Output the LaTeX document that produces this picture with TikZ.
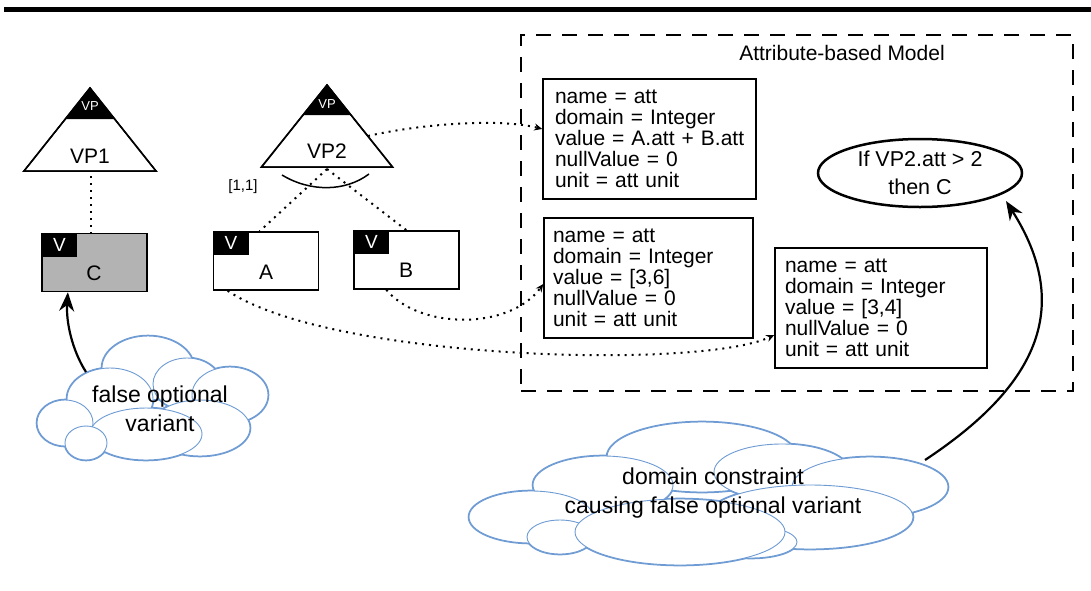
\documentclass[tikz,border=0pt]{standalone}
\usepackage{fontspec}
\setmainfont{Liberation Sans}
\usetikzlibrary{arrows.meta,calc,shapes.geometric}
\definecolor{cloudblue}{HTML}{6E9BD3}
\definecolor{cgray}{HTML}{B3B3B3}
\begin{document}
\begin{tikzpicture}[x=1pt,y=-1pt,
  tri/.style={draw=black,line width=1.5pt,fill=white,line join=miter},
  vbox/.style={draw,line width=1.5pt,minimum width=105pt,minimum height=58pt,inner sep=0pt},
  vlab/.style={fill=black,text=white,minimum width=36pt,minimum height=24pt,inner sep=0pt,font=\fontsize{19}{19}\selectfont,anchor=north west},
  bigtxt/.style={font=\fontsize{21}{21}\selectfont},
  vptxt/.style={font=\fontsize{13}{13}\selectfont,text=white,inner sep=0pt},
  attbox/.style={draw,line width=1.5pt,align=left,inner ysep=0pt,minimum height=120pt,font=\fontsize{21}{21}\selectfont},
  dots/.style={line width=2pt,dash pattern=on 2pt off 5pt},
  dotarrow/.style={dots,-{Stealth[length=8pt,width=7pt]}},
  solidarrow/.style={line width=2.2pt,-{Stealth[length=19pt,width=15pt]}},
  cloudout/.style={draw=cloudblue,line width=2.6pt},
  cloudin/.style={fill=white,draw=cloudblue,line width=0.9pt},
  cloudtxt/.style={font=\fontsize{23}{29}\selectfont,align=center}
]
\useasboundingbox (0,0) rectangle (1091,590);

% top rule
\draw[line width=5pt] (4,9.5) -- (1091,9.5);

% attribute-based model frame
\node[draw,line width=2pt,dash pattern=on 15pt off 11pt,minimum width=552pt,minimum height=356pt,inner sep=0pt] (abm) at (797,213) {};
\node[bigtxt] (title) at (842,53) {Attribute-based Model};

% VP1 triangle
\draw[tri] (90,88) -- (24,171) -- (156,171) -- cycle;
\fill[black] (90,88) -- (65.3,119) -- (114.7,119) -- cycle;
\draw[line width=1.5pt,line join=miter] (90,88) -- (24,171) -- (156,171) -- cycle;
\node[vptxt] (vp1tag) at (90,106) {VP};
\node[bigtxt] (vp1) at (90,156) {VP1};

% VP2 triangle
\draw[tri] (327,85) -- (261.5,167) -- (392.5,167) -- cycle;
\fill[black] (327,85) -- (303,115) -- (351,115) -- cycle;
\draw[line width=1.5pt,line join=miter] (327,85) -- (261.5,167) -- (392.5,167) -- cycle;
\node[vptxt] (vp2tag) at (327,104) {VP};
\node[bigtxt] (vp2) at (327,151) {VP2};

% group arc and cardinality
\draw[line width=1.5pt] (282,175) .. controls (310,192) and (345,192) .. (369,174);
\node[font=\fontsize{15}{15}\selectfont] (card) at (243,187) {[1,1]};

% variant boxes
\node[vbox,fill=cgray] (cbox) at (94.5,262.5) {};
\node[vlab] (clab) at (cbox.north west) {V};
\node[bigtxt] (ctxt) at (94,273) {C};

\node[vbox,fill=white] (abox) at (266,261) {};
\node[vlab] (alab) at (abox.north west) {V};
\node[bigtxt] (atxt) at (266,272) {A};

\node[vbox,fill=white] (bbox) at (406.5,260) {};
\node[vlab] (blab) at (bbox.north west) {V};
\node[bigtxt] (btxt) at (406,270) {B};

% attribute boxes
\node[attbox,inner xsep=12pt,text width=189pt] (b1) at (649.5,139) {name = att\\domain = Integer\\\mbox{value = A.att + B.att}\\nullValue = 0\\unit = att unit};
\node[attbox,inner xsep=9pt,text width=191pt] (b2) at (648.5,278) {name = att\\domain = Integer\\value = [3,6]\\nullValue = 0\\unit = att unit};
\node[attbox,inner xsep=10pt,text width=192pt] (b3) at (881,308) {name = att\\domain = Integer\\value = [3,4]\\nullValue = 0\\unit = att unit};

% constraint ellipse
\node[ellipse,draw,line width=2.5pt,minimum width=204pt,minimum height=68pt,inner sep=0pt,align=center,font=\fontsize{21.5}{28}\selectfont] (cond) at (920,173) {If VP2.att > 2\\then C};

% dotted connectors
\coordinate (vp1base) at (91,176);
\draw[dots] (vp1base) -- (vp1base |- cbox.north);
\coordinate (vp2base) at (327,169);
\draw[dots] (vp2base) -- ($(abox.north west)!0.44!(abox.north east)$);
\draw[dots] (vp2base) -- (bbox.north);
\coordinate (vp2side) at (368,136);
\draw[dotarrow] (vp2side) .. controls (420,124) and (500,118) .. ([yshift=10pt]b1.west);
\draw[dotarrow] ($(bbox.south west)!0.31!(bbox.south east)$) .. controls (420,330) and (510,330) .. ([yshift=-6pt]b2.west);
\draw[dotarrow] ($(abox.south west)!0.14!(abox.south east)$) .. controls (330,360) and (700,370) .. ([yshift=-27pt]b3.west);

% cloud 1
\foreach \cx/\cy/\rx/\ry in {65/423/28/23,110/399/43/31,148/368/46/32,187/384/34/26,230/395/38/28,86/443/21/17,146/434/56/26,200/428/50/28}
  \draw[cloudout] (\cx,\cy) ellipse [x radius=\rx pt,y radius=\ry pt];
\foreach \cx/\cy/\rx/\ry in {148/368/46/32,110/399/43/31,187/384/34/26,65/423/28/23,230/395/38/28,200/428/50/28,146/434/56/26,86/443/21/17}
  \filldraw[cloudin] (\cx,\cy) ellipse [x radius=\rx pt,y radius=\ry pt];
\node[cloudtxt] (cloudAtxt) at (160,409) {false optional\\variant};

% cloud 2
\foreach \cx/\cy/\rx/\ry in {702/457/95/35,603/485/70/29,531/517/62/26,782/472/68/28,870/487/78/30,810/517/103/32,751/542/46/16,680/532/105/33,560/537/33/17}
  \draw[cloudout] (\cx,\cy) ellipse [x radius=\rx pt,y radius=\ry pt];
\foreach \cx/\cy/\rx/\ry in {702/457/95/35,603/485/70/29,782/472/68/28,870/487/78/30,531/517/62/26,810/517/103/32,751/542/46/16,560/537/33/17,680/532/105/33}
  \filldraw[cloudin] (\cx,\cy) ellipse [x radius=\rx pt,y radius=\ry pt];
\node[cloudtxt] (cloudBtxt) at (713,493) {domain constraint\\causing false optional variant};

% solid arrows
\coordinate (cloudAtop) at (86,372);
\draw[solidarrow] (cloudAtop) .. controls (72,350) and (66,322) .. ($(cbox.south west)!0.25!(cbox.south east)$);
\coordinate (cloudBtop) at (925,460);
\coordinate (condtip) at (1006,201);
\draw[solidarrow] (cloudBtop) .. controls (1034,388) and (1075,310) .. (condtip);
\end{tikzpicture}
\end{document}
